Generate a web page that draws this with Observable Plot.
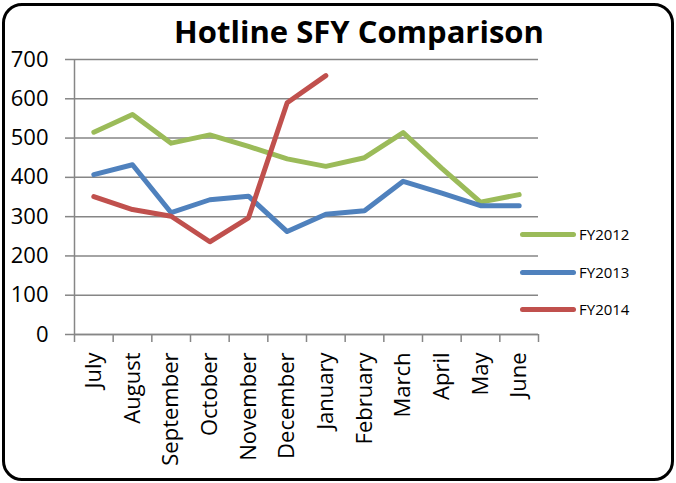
<!DOCTYPE html>
<html>
<head>
<meta charset="utf-8">
<script src="https://cdn.jsdelivr.net/npm/d3@7"></script>
<script src="https://cdn.jsdelivr.net/npm/@observablehq/plot@0.6"></script>
<style>
  html, body { margin: 0; padding: 0; background: #fff; }
  #wrap { position: relative; width: 676px; height: 483px; overflow: hidden; background: #fff; font-family: "Open Sans", sans-serif; }
  #border { position: absolute; left: 2px; top: 3px; width: 672px; height: 478px; box-sizing: border-box; border: 3px solid #000; border-radius: 20px; pointer-events: none; }
  #chart { position: absolute; left: 0; top: 0; }
  #title { position: absolute; left: 0; width: 718px; top: 16px; text-align: center; font-size: 31px; line-height: 31px; font-weight: bold; color: #000; white-space: nowrap; }
  .leg { position: absolute; left: 520px; height: 20px; display: flex; align-items: center; font-size: 15px; color: #000; }
  .leg .sw { width: 56px; height: 5px; border-radius: 3px; margin-right: 3px; }
</style>
</head>
<body>
<div id="wrap">
  <div id="chart"></div>
  <div id="title">Hotline SFY Comparison</div>
  <div id="legend"></div>
  <div id="border"></div>
</div>
<script>
const months = ["July", "August", "September", "October", "November", "December", "January", "February", "March", "April", "May", "June"];
const fy2012 = [515, 560, 487, 508, 479, 447, 428, 450, 514, 423, 337, 356];
const fy2013 = [407, 432, 310, 343, 352, 262, 306, 315, 390, 360, 328, 328];
const fy2014 = [351, 318, 301, 236, 297, 590, 659];
const seriesNames = ["FY2012", "FY2013", "FY2014"];
const seriesColors = ["#9BBB59", "#4F81BD", "#C0504D"];
const yTicks = [0, 100, 200, 300, 400, 500, 600, 700];

const gray = "#868686";
const lineOpts = (color) => ({
  x: (d, i) => i + 0.5, y: d => d, stroke: color, strokeWidth: 5,
  strokeLinecap: "round", strokeLinejoin: "round"
});

const chart = Plot.plot({
  width: 676, height: 483,
  marginLeft: 74, marginRight: 138, marginTop: 59, marginBottom: 149,
  x: { type: "linear", domain: [0, months.length] },
  y: { domain: [0, 700] },
  style: { fontFamily: "Open Sans", fontSize: "22px", color: "#000", background: "transparent", overflow: "visible" },
  marks: [
    Plot.gridY(yTicks, { stroke: gray, strokeOpacity: 1, strokeWidth: 1.5 }),
    Plot.axisY(yTicks, { tickSize: 9, tickPadding: 17, stroke: gray, strokeWidth: 1.5, label: null, tickFormat: d => String(d), fontSize: 22 }),
    Plot.axisX(d3.range(months.length + 1), { tickSize: 8, tickFormat: () => "", stroke: gray, strokeWidth: 1.5, label: null }),
    Plot.axisX(months.map((m, i) => i + 0.5), { tickSize: 0, tickPadding: 18, tickRotate: -90, tickFormat: d => months[Math.floor(d)], label: null, fontSize: 22 }),
    Plot.ruleX([0], { stroke: gray, strokeWidth: 1.5 }),
    Plot.ruleY([0], { stroke: gray, strokeWidth: 1.5 }),
    Plot.lineY(fy2012, lineOpts(seriesColors[0])),
    Plot.lineY(fy2013, lineOpts(seriesColors[1])),
    Plot.lineY(fy2014, lineOpts(seriesColors[2]))
  ]
});
document.getElementById("chart").appendChild(chart);

const legend = document.getElementById("legend");
const legY = [224, 262, 299];
seriesNames.forEach((name, i) => {
  const row = document.createElement("div");
  row.className = "leg";
  row.style.top = legY[i] + "px";
  row.innerHTML = `<span class="sw" style="background:${seriesColors[i]}"></span><span>${name}</span>`;
  legend.appendChild(row);
});
</script>
</body>
</html>
